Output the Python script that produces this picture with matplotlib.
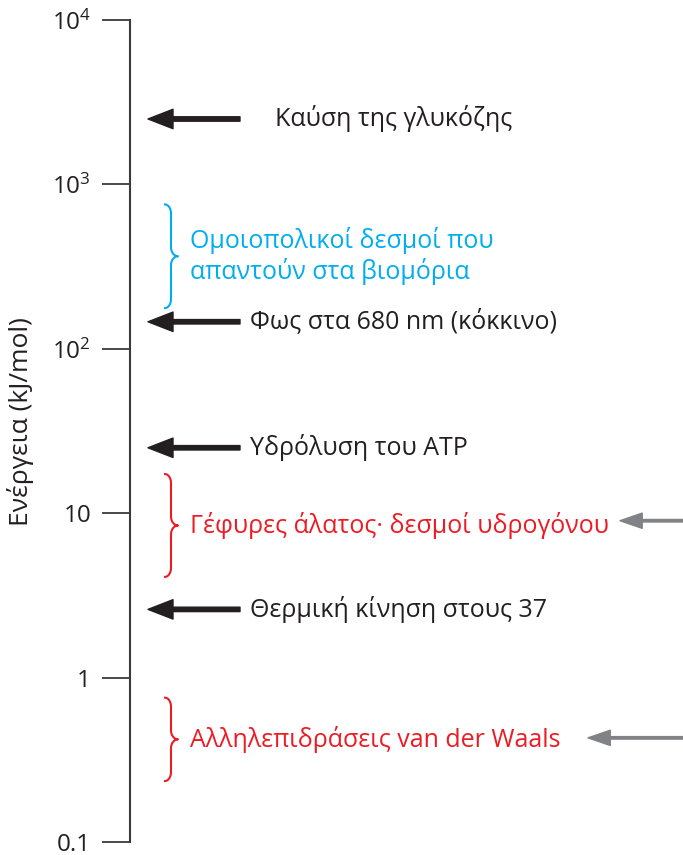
import numpy as np
import matplotlib
matplotlib.use("Agg")
import matplotlib.pyplot as plt

plt.rcParams['font.family'] = ['Open Sans', 'DejaVu Sans']
plt.rcParams['mathtext.fontset'] = 'custom'
plt.rcParams['mathtext.rm'] = 'Open Sans'

# energy scale (kJ/mol)
tick_values = [0.1, 1, 10, 100, 1000, 10000]
tick_labels = ['0.1', '1', '10', r'$\mathregular{10^2}$', r'$\mathregular{10^3}$', r'$\mathregular{10^4}$']

# black arrows: processes
proc_labels = ['Καύση της γλυκόζης', 'Φως στα 680 nm (κόκκινο)', 'Υδρόλυση του ATP', 'Θερμική κίνηση στους 37']
proc_values = [2500, 146, 25, 2.6]

# braces: ranges of bond energies
range_labels = ['Ομοιοπολικοί δεσμοί που\nαπαντούν στα βιομόρια',
                'Γέφυρες άλατος· δεσμοί υδρογόνου',
                'Αλληλεπιδράσεις van der Waals']
range_low = [177, 4.1, 0.235]
range_high = [755, 17.3, 0.755]
range_colors = ['#00aeef', '#ed1c24', '#ed1c24']

# grey arrows from the right
grey_values = [9.0, 0.43]

fig = plt.figure(figsize=(6.83, 8.55), dpi=100)
ax = fig.add_axes([130/683, 13/855, 553/683, 822/855])
ax.set_yscale('log')
ax.set_ylim(0.1, 1e4)
ax.set_xlim(0, 1)
for s in ['top', 'right', 'bottom']:
    ax.spines[s].set_visible(False)
ax.spines['left'].set_linewidth(1.5)
ax.spines['left'].set_color('#3a3a3a')
ax.set_xticks([])
ax.set_yticks(tick_values)
ax.set_yticklabels(tick_labels)
ax.yaxis.set_minor_locator(matplotlib.ticker.NullLocator())
ax.tick_params(axis='y', length=20, width=1.3, color='#3a3a3a', pad=8, labelsize=17.5, labelcolor='#231f20')
ax.set_ylabel('Ενέργεια (kJ/mol)', fontsize=19, color='#231f20')
ax.yaxis.set_label_coords(-96/553, 0.512)

tr = ax.get_yaxis_transform()
W = 553.0

# black arrows + labels
for lab, v, tx in zip(proc_labels, proc_values, [275, 250, 250, 250]):
    ax.annotate('', xy=(18/W, v), xytext=(110/W, v), xycoords=tr, textcoords=tr,
                arrowprops=dict(arrowstyle='simple,head_length=1.8,head_width=1.4,tail_width=0.32',
                                mutation_scale=10, color='#231f20', shrinkA=0, shrinkB=0))
    ax.text((tx - 130)/W, v, lab, transform=tr, fontsize=18, color='#231f20', va='center', ha='left')

# braces
def brace(lo, hi, color):
    llo, lhi = np.log10(lo), np.log10(hi)
    lmid = (llo + lhi) / 2
    r = 0.055
    x0, xm, xt = 35/W, 41/W, 48/W
    t = np.linspace(0, np.pi/2, 20)
    xs = list(x0 + (xm - x0) * np.sin(t))
    ys = list(lhi - r * (1 - np.cos(t)))
    xs += list(xm + (xt - xm) * (1 - np.cos(t)))
    ys += list(lmid + r * (1 - np.sin(t)))
    xs += list(xm + (xt - xm) * (1 - np.sin(t)))
    ys += list(lmid - r * (1 - np.cos(t)))
    xs += list(x0 + (xm - x0) * np.cos(t))
    ys += list(llo + r * (1 - np.sin(t)))
    ax.plot(xs, 10**np.array(ys), transform=tr, color=color, lw=1.5, clip_on=False)

for lab, lo, hi, c in zip(range_labels, range_low, range_high, range_colors):
    brace(lo, hi, c)
    mid = 10**((np.log10(lo) + np.log10(hi)) / 2)
    ax.text(60/W, mid, lab, transform=tr, fontsize=18, color=c, va='center', ha='left', linespacing=1.2)

# grey arrows
for v, xe in zip(grey_values, [490, 458]):
    ax.annotate('', xy=(xe/W, v), xytext=(1.0, v), xycoords=tr, textcoords=tr,
                arrowprops=dict(arrowstyle='simple,head_length=1.6,head_width=1.1,tail_width=0.18',
                                mutation_scale=10, color='#808285', shrinkA=0, shrinkB=0))

fig.savefig('out.png', dpi=100)
